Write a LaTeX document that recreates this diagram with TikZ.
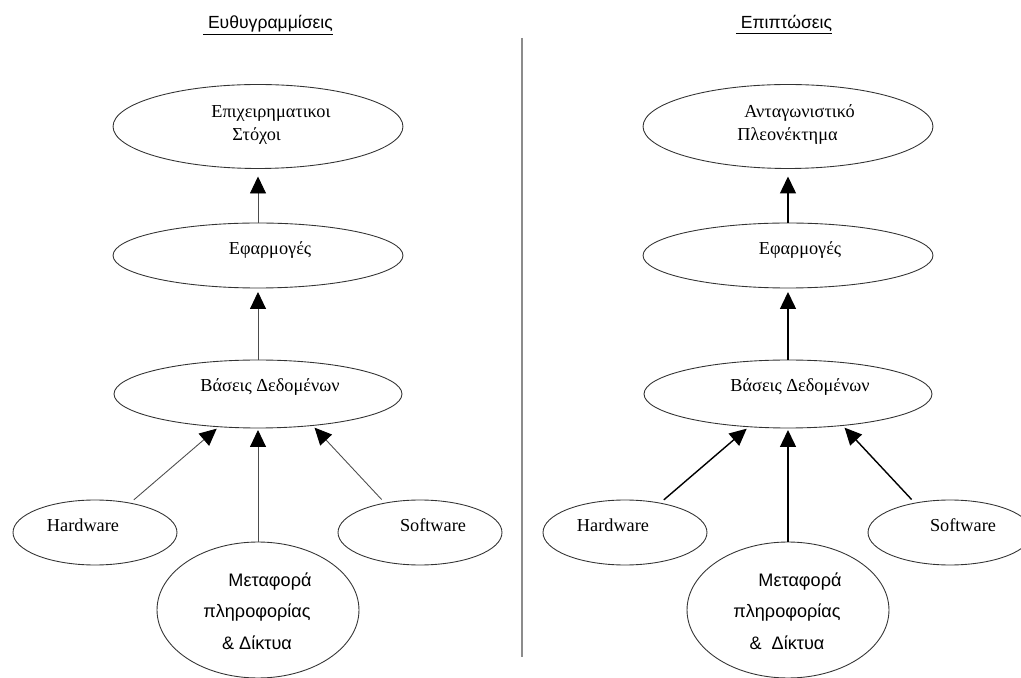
\documentclass[tikz,border=0pt]{standalone}
\usepackage{fontspec}
\setmainfont{Liberation Serif}
\newfontfamily\arialgr{Liberation Sans}
\usetikzlibrary{shapes.geometric,arrows.meta}

\begin{document}
\begin{tikzpicture}[x=0.02cm,y=-0.02cm,
  bubble/.style={ellipse,draw=black!80,line width=0.5pt,inner sep=0pt,outer sep=0pt},
  lbl/.style={font=\fontsize{10.4}{12}\selectfont,inner sep=0pt},
  sanslbl/.style={font=\arialgr\fontsize{10.3}{12}\selectfont,inner sep=0pt},
  heading/.style={font=\arialgr\fontsize{10}{12}\selectfont,inner sep=0pt},
  link/.style={-{Triangle[length=0.34cm,width=0.32cm,color=black]}},
  linkL/.style={link,draw=black!70,line width=0.5pt},
  linkR/.style={link,draw=black,line width=0.8pt},
  divider/.style={draw=black!45,line width=0.7pt},
]
\useasboundingbox (0,0) rectangle (1021,678);

% ---------------- headings and divider ----------------
\node[heading] (headL) at (268,25) {\underline{\ Ευθυγραμμίσεις}};
\node[heading] (headR) at (784,25) {\underline{\ Επιπτώσεις}};
\coordinate (divTop) at (522,38);
\coordinate (divBot) at (522,657);
\draw[divider] (divTop) -- (divBot);

% ---------------- left panel ----------------
\node[bubble,minimum width=5.8cm,minimum height=1.68cm] (goalL) at (258,126.5) {};
\node[bubble,minimum width=5.8cm,minimum height=1.3cm] (appL) at (258,255.5) {};
\node[bubble,minimum width=5.76cm,minimum height=1.36cm] (dbL) at (258,394) {};
\node[bubble,minimum width=3.28cm,minimum height=1.3cm] (hwL) at (95,532.5) {};
\node[bubble,minimum width=3.28cm,minimum height=1.3cm] (swL) at (420,532.5) {};
\node[bubble,minimum width=4.04cm,minimum height=2.72cm] (netL) at (258,610) {};

\node[lbl,anchor=west] (goalLa) at (211,113) {Επιχειρηματικοι};
\node[lbl,anchor=west] (goalLb) at (232,136) {Στόχοι};
\node[lbl] (appLt) at (270,250) {Εφαρμογές};
\node[lbl] (dbLt) at (270,387) {Βάσεις Δεδομένων};
\node[lbl] (hwLt) at (83,525) {Hardware};
\node[lbl] (swLt) at (433,525) {Software};
\node[sanslbl] (netLa) at (270,582) {Μεταφορά};
\node[sanslbl] (netLb) at (257,613) {πληροφορίας};
\node[sanslbl] (netLc) at (257,643) {\&\ Δίκτυα};

\draw[linkL,shorten >=0.16cm] (appL.north) -- (goalL.south);
\draw[linkL,shorten >=0.08cm] (dbL.north) -- (appL.south);
\draw[linkL,shorten <=0.1cm,shorten >=0.06cm] (hwL.40) -- (dbL.220);
\draw[linkL,shorten >=0.04cm] (netL.north) -- (dbL.south);
\draw[linkL,shorten <=0.1cm,shorten >=0.06cm] (swL.140) -- (dbL.330);

% ---------------- right panel ----------------
\node[bubble,minimum width=5.8cm,minimum height=1.68cm] (goalR) at (788,126.5) {};
\node[bubble,minimum width=5.8cm,minimum height=1.3cm] (appR) at (788,255.5) {};
\node[bubble,minimum width=5.76cm,minimum height=1.36cm] (dbR) at (788,394) {};
\node[bubble,minimum width=3.28cm,minimum height=1.3cm] (hwR) at (625,532.5) {};
\node[bubble,minimum width=3.28cm,minimum height=1.3cm] (swR) at (950,532.5) {};
\node[bubble,minimum width=4.04cm,minimum height=2.72cm] (netR) at (788,610) {};

\node[lbl,anchor=west] (goalRa) at (744,113) {Ανταγωνιστικό};
\node[lbl,anchor=west] (goalRb) at (737,136) {Πλεονέκτημα};
\node[lbl] (appRt) at (800,250) {Εφαρμογές};
\node[lbl] (dbRt) at (800,387) {Βάσεις Δεδομένων};
\node[lbl] (hwRt) at (613,525) {Hardware};
\node[lbl] (swRt) at (963,525) {Software};
\node[sanslbl] (netRa) at (800,582) {Μεταφορά};
\node[sanslbl] (netRb) at (787,613) {πληροφορίας};
\node[sanslbl] (netRc) at (787,643) {\&\ \ Δίκτυα};

\draw[linkR,shorten >=0.16cm] (appR.north) -- (goalR.south);
\draw[linkR,shorten >=0.08cm] (dbR.north) -- (appR.south);
\draw[linkR,shorten <=0.1cm,shorten >=0.06cm] (hwR.40) -- (dbR.220);
\draw[linkR,shorten >=0.04cm] (netR.north) -- (dbR.south);
\draw[linkR,shorten <=0.1cm,shorten >=0.06cm] (swR.140) -- (dbR.330);
\end{tikzpicture}
\end{document}
